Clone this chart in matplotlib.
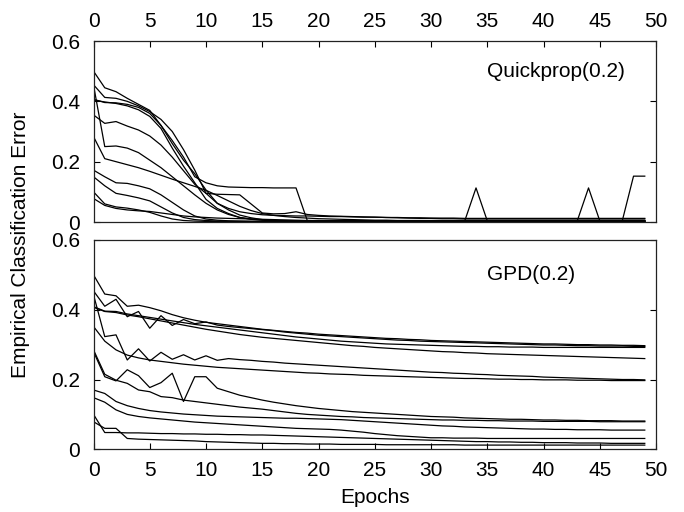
import numpy as np
import matplotlib
matplotlib.use("Agg")
import matplotlib.pyplot as plt

plt.rcParams['font.family'] = ['Liberation Sans', 'DejaVu Sans']

epochs = np.arange(50)

# Quickprop(0.2) runs - classification error per epoch
qp_runs = [
    [0.500, 0.445, 0.432, 0.410, 0.390, 0.370, 0.320, 0.270, 0.215, 0.150,
     0.130, 0.120, 0.116, 0.115, 0.114, 0.114, 0.113, 0.113, 0.113, 0.005,
     0.004, 0.004, 0.004, 0.004, 0.004, 0.004, 0.004, 0.004, 0.004, 0.004,
     0.004, 0.004, 0.004, 0.004, 0.004, 0.004, 0.004, 0.004, 0.004, 0.004,
     0.004, 0.004, 0.004, 0.004, 0.004, 0.004, 0.004, 0.004, 0.004, 0.004],
    [0.455, 0.413, 0.410, 0.400, 0.385, 0.366, 0.340, 0.300, 0.240, 0.172,
     0.095, 0.062, 0.045, 0.034, 0.028, 0.024, 0.022, 0.021, 0.020, 0.020,
     0.019, 0.018, 0.018, 0.017, 0.016, 0.016, 0.015, 0.015, 0.014, 0.014,
     0.013, 0.013, 0.013, 0.012, 0.012, 0.012, 0.012, 0.012, 0.012, 0.012,
     0.012, 0.012, 0.012, 0.012, 0.012, 0.012, 0.012, 0.012, 0.012, 0.012],
    [0.407, 0.396, 0.395, 0.390, 0.380, 0.360, 0.320, 0.260, 0.205, 0.160,
     0.106, 0.062, 0.040, 0.023, 0.014, 0.008, 0.005, 0.004, 0.003, 0.003,
     0.003, 0.003, 0.003, 0.003, 0.003, 0.003, 0.003, 0.003, 0.003, 0.003,
     0.003, 0.003, 0.003, 0.003, 0.003, 0.003, 0.003, 0.003, 0.003, 0.003,
     0.003, 0.003, 0.003, 0.003, 0.003, 0.003, 0.003, 0.003, 0.003, 0.003],
    [0.404, 0.398, 0.393, 0.385, 0.372, 0.350, 0.310, 0.245, 0.185, 0.130,
     0.075, 0.045, 0.028, 0.015, 0.009, 0.006, 0.004, 0.003, 0.003, 0.003,
     0.003, 0.003, 0.003, 0.003, 0.003, 0.003, 0.003, 0.003, 0.003, 0.003,
     0.003, 0.003, 0.003, 0.003, 0.003, 0.003, 0.003, 0.003, 0.003, 0.003,
     0.003, 0.003, 0.003, 0.003, 0.003, 0.003, 0.003, 0.003, 0.003, 0.003],
    [0.454, 0.250, 0.252, 0.245, 0.230, 0.205, 0.180, 0.150, 0.120, 0.090,
     0.062, 0.040, 0.025, 0.015, 0.010, 0.007, 0.005, 0.004, 0.003, 0.003,
     0.003, 0.003, 0.003, 0.003, 0.003, 0.003, 0.003, 0.003, 0.003, 0.003,
     0.003, 0.003, 0.003, 0.003, 0.003, 0.003, 0.003, 0.003, 0.003, 0.003,
     0.003, 0.003, 0.003, 0.003, 0.003, 0.003, 0.003, 0.003, 0.003, 0.003],
    [0.355, 0.327, 0.333, 0.318, 0.305, 0.285, 0.255, 0.215, 0.170, 0.125,
     0.095, 0.092, 0.091, 0.090, 0.060, 0.030, 0.027, 0.028, 0.034, 0.025,
     0.022, 0.020, 0.019, 0.018, 0.017, 0.016, 0.015, 0.014, 0.013, 0.012,
     0.012, 0.011, 0.011, 0.010, 0.010, 0.010, 0.010, 0.010, 0.010, 0.010,
     0.010, 0.010, 0.010, 0.010, 0.010, 0.010, 0.010, 0.010, 0.010, 0.010],
    [0.283, 0.210, 0.200, 0.190, 0.180, 0.168, 0.155, 0.142, 0.130, 0.118,
     0.105, 0.088, 0.070, 0.052, 0.038, 0.028, 0.022, 0.018, 0.015, 0.013,
     0.011, 0.010, 0.009, 0.008, 0.007, 0.006, 0.006, 0.005, 0.005, 0.005,
     0.005, 0.005, 0.005, 0.005, 0.005, 0.005, 0.005, 0.005, 0.005, 0.005,
     0.005, 0.005, 0.005, 0.005, 0.005, 0.005, 0.005, 0.005, 0.005, 0.005],
    [0.172, 0.150, 0.130, 0.128, 0.120, 0.110, 0.090, 0.065, 0.040, 0.020,
     0.010, 0.006, 0.004, 0.003, 0.002, 0.002, 0.002, 0.002, 0.002, 0.002,
     0.002, 0.002, 0.002, 0.002, 0.002, 0.002, 0.002, 0.002, 0.002, 0.002,
     0.002, 0.002, 0.002, 0.002, 0.002, 0.002, 0.002, 0.002, 0.002, 0.002,
     0.002, 0.002, 0.002, 0.002, 0.002, 0.002, 0.002, 0.002, 0.002, 0.002],
    [0.150, 0.120, 0.095, 0.088, 0.080, 0.070, 0.050, 0.030, 0.015, 0.008,
     0.005, 0.003, 0.002, 0.002, 0.002, 0.002, 0.002, 0.002, 0.002, 0.002,
     0.002, 0.002, 0.002, 0.002, 0.002, 0.002, 0.002, 0.002, 0.002, 0.002,
     0.002, 0.002, 0.002, 0.002, 0.002, 0.002, 0.002, 0.002, 0.002, 0.002,
     0.002, 0.002, 0.002, 0.002, 0.002, 0.002, 0.002, 0.002, 0.002, 0.002],
    [0.100, 0.060, 0.050, 0.046, 0.040, 0.032, 0.020, 0.010, 0.005, 0.003,
     0.002, 0.002, 0.002, 0.002, 0.002, 0.002, 0.002, 0.002, 0.002, 0.002,
     0.002, 0.002, 0.002, 0.002, 0.002, 0.002, 0.002, 0.002, 0.002, 0.002,
     0.002, 0.002, 0.002, 0.002, 0.002, 0.002, 0.002, 0.002, 0.002, 0.002,
     0.002, 0.002, 0.002, 0.002, 0.002, 0.002, 0.002, 0.002, 0.002, 0.002],
    [0.078, 0.055, 0.045, 0.040, 0.037, 0.035, 0.030, 0.025, 0.020, 0.017,
     0.015, 0.013, 0.012, 0.011, 0.010, 0.009, 0.008, 0.007, 0.006, 0.005,
     0.005, 0.004, 0.004, 0.004, 0.004, 0.004, 0.004, 0.004, 0.004, 0.004,
     0.004, 0.004, 0.004, 0.004, 0.113, 0.004, 0.004, 0.004, 0.004, 0.004,
     0.004, 0.004, 0.004, 0.004, 0.113, 0.004, 0.004, 0.004, 0.152, 0.152],
]

# GPD(0.2) runs
gpd_runs = [
    [0.500, 0.445, 0.440, 0.410, 0.413, 0.406, 0.397, 0.386, 0.377, 0.370,
     0.364, 0.360, 0.356, 0.352, 0.348, 0.344, 0.341, 0.338, 0.335, 0.333,
     0.330, 0.328, 0.326, 0.324, 0.322, 0.320, 0.318, 0.317, 0.315, 0.314,
     0.312, 0.311, 0.310, 0.309, 0.308, 0.307, 0.306, 0.305, 0.304, 0.303,
     0.302, 0.302, 0.301, 0.300, 0.300, 0.299, 0.299, 0.298, 0.298, 0.297],
    [0.454, 0.410, 0.430, 0.380, 0.395, 0.347, 0.383, 0.355, 0.372, 0.360,
     0.365, 0.356, 0.352, 0.349, 0.346, 0.343, 0.340, 0.336, 0.333, 0.330,
     0.327, 0.325, 0.323, 0.321, 0.319, 0.317, 0.315, 0.313, 0.312, 0.310,
     0.309, 0.308, 0.307, 0.306, 0.305, 0.304, 0.303, 0.302, 0.301, 0.300,
     0.299, 0.299, 0.298, 0.297, 0.297, 0.296, 0.296, 0.296, 0.295, 0.295],
    [0.409, 0.396, 0.395, 0.388, 0.383, 0.378, 0.373, 0.368, 0.363, 0.358,
     0.354, 0.350, 0.346, 0.342, 0.338, 0.334, 0.330, 0.326, 0.322, 0.319,
     0.316, 0.313, 0.310, 0.308, 0.306, 0.304, 0.302, 0.301, 0.300, 0.299,
     0.298, 0.297, 0.296, 0.295, 0.295, 0.294, 0.294, 0.293, 0.293, 0.293,
     0.292, 0.292, 0.292, 0.292, 0.292, 0.292, 0.292, 0.292, 0.292, 0.292],
    [0.407, 0.395, 0.392, 0.385, 0.380, 0.374, 0.368, 0.362, 0.356, 0.350,
     0.344, 0.339, 0.334, 0.329, 0.325, 0.321, 0.318, 0.315, 0.312, 0.309,
     0.306, 0.303, 0.300, 0.297, 0.295, 0.292, 0.290, 0.288, 0.286, 0.284,
     0.282, 0.280, 0.279, 0.277, 0.276, 0.274, 0.273, 0.272, 0.271, 0.270,
     0.269, 0.268, 0.267, 0.266, 0.265, 0.264, 0.263, 0.262, 0.261, 0.260],
    [0.443, 0.323, 0.328, 0.256, 0.288, 0.253, 0.278, 0.258, 0.271, 0.256,
     0.268, 0.255, 0.260, 0.257, 0.255, 0.252, 0.250, 0.247, 0.245, 0.243,
     0.241, 0.239, 0.237, 0.235, 0.233, 0.231, 0.229, 0.227, 0.225, 0.223,
     0.221, 0.220, 0.218, 0.217, 0.215, 0.214, 0.212, 0.211, 0.210, 0.209,
     0.207, 0.206, 0.205, 0.204, 0.203, 0.202, 0.201, 0.200, 0.200, 0.199],
    [0.352, 0.310, 0.285, 0.270, 0.262, 0.256, 0.252, 0.248, 0.244, 0.241,
     0.238, 0.235, 0.233, 0.231, 0.229, 0.227, 0.225, 0.223, 0.221, 0.219,
     0.218, 0.216, 0.215, 0.214, 0.212, 0.211, 0.210, 0.209, 0.208, 0.207,
     0.206, 0.205, 0.204, 0.203, 0.203, 0.202, 0.201, 0.201, 0.200, 0.200,
     0.199, 0.199, 0.199, 0.198, 0.198, 0.198, 0.197, 0.197, 0.197, 0.197],
    [0.280, 0.208, 0.196, 0.228, 0.211, 0.177, 0.191, 0.218, 0.137, 0.208,
     0.208, 0.175, 0.165, 0.155, 0.148, 0.141, 0.135, 0.130, 0.125, 0.121,
     0.117, 0.114, 0.111, 0.108, 0.106, 0.104, 0.102, 0.100, 0.098, 0.096,
     0.094, 0.093, 0.092, 0.090, 0.089, 0.088, 0.087, 0.086, 0.086, 0.085,
     0.084, 0.084, 0.083, 0.083, 0.082, 0.082, 0.082, 0.081, 0.081, 0.081],
    [0.285, 0.215, 0.198, 0.189, 0.170, 0.165, 0.151, 0.148, 0.141, 0.137,
     0.133, 0.129, 0.125, 0.121, 0.118, 0.115, 0.111, 0.107, 0.103, 0.100,
     0.098, 0.096, 0.094, 0.093, 0.091, 0.090, 0.089, 0.088, 0.087, 0.086,
     0.085, 0.084, 0.084, 0.083, 0.083, 0.082, 0.082, 0.081, 0.081, 0.081,
     0.080, 0.080, 0.080, 0.080, 0.080, 0.079, 0.079, 0.079, 0.079, 0.079],
    [0.170, 0.160, 0.137, 0.125, 0.117, 0.111, 0.107, 0.104, 0.101, 0.099,
     0.097, 0.095, 0.094, 0.093, 0.092, 0.091, 0.090, 0.089, 0.089, 0.088,
     0.087, 0.086, 0.085, 0.083, 0.081, 0.079, 0.077, 0.075, 0.073, 0.071,
     0.069, 0.067, 0.066, 0.064, 0.063, 0.062, 0.061, 0.060, 0.059, 0.058,
     0.058, 0.057, 0.057, 0.056, 0.056, 0.056, 0.055, 0.055, 0.055, 0.055],
    [0.148, 0.135, 0.113, 0.100, 0.094, 0.090, 0.087, 0.084, 0.081, 0.078,
     0.076, 0.074, 0.072, 0.070, 0.068, 0.066, 0.064, 0.062, 0.060, 0.059,
     0.058, 0.057, 0.055, 0.052, 0.049, 0.045, 0.042, 0.039, 0.037, 0.035,
     0.033, 0.033, 0.032, 0.032, 0.032, 0.031, 0.031, 0.031, 0.031, 0.031,
     0.031, 0.031, 0.031, 0.031, 0.031, 0.031, 0.031, 0.031, 0.031, 0.031],
    [0.100, 0.048, 0.048, 0.047, 0.047, 0.046, 0.045, 0.045, 0.044, 0.044,
     0.043, 0.043, 0.042, 0.042, 0.041, 0.041, 0.040, 0.039, 0.038, 0.037,
     0.036, 0.035, 0.034, 0.033, 0.032, 0.031, 0.030, 0.029, 0.028, 0.027,
     0.026, 0.025, 0.024, 0.023, 0.022, 0.022, 0.021, 0.021, 0.020, 0.020,
     0.019, 0.019, 0.019, 0.018, 0.018, 0.018, 0.017, 0.017, 0.017, 0.017],
    [0.079, 0.060, 0.060, 0.031, 0.029, 0.028, 0.027, 0.026, 0.025, 0.024,
     0.022, 0.021, 0.020, 0.019, 0.018, 0.017, 0.017, 0.016, 0.016, 0.015,
     0.015, 0.015, 0.014, 0.014, 0.014, 0.014, 0.013, 0.013, 0.013, 0.013,
     0.013, 0.013, 0.013, 0.012, 0.012, 0.012, 0.012, 0.012, 0.012, 0.012,
     0.012, 0.012, 0.012, 0.012, 0.012, 0.012, 0.012, 0.012, 0.012, 0.012],
]

x_ticks = [0, 5, 10, 15, 20, 25, 30, 35, 40, 45, 50]
y_ticks = [0, 0.2, 0.4, 0.6]
y_ticklabels = ["0", "0.2", "0.4", "0.6"]
fs = 15

fig = plt.figure(figsize=(6.84, 5.12), dpi=100)
ax_top = fig.add_axes([0.1367, 0.5664, 0.8224, 0.3535])
ax_bot = fig.add_axes([0.1367, 0.1225, 0.8224, 0.4088])

for ax, runs, label in [(ax_top, qp_runs, "Quickprop(0.2)"), (ax_bot, gpd_runs, "GPD(0.2)")]:
    for run in runs:
        ax.plot(epochs, run, color="black", lw=0.9)
    ax.set_xlim(0, 50)
    ax.set_ylim(0, 0.6)
    ax.set_xticks(x_ticks)
    ax.set_yticks(y_ticks)
    ax.set_yticklabels(y_ticklabels)
    ax.text(35, 0.5, label, fontsize=fs, ha="left", va="center")
    for s in ax.spines.values():
        s.set_linewidth(0.9)
        s.set_color("#222222")
    ax.tick_params(direction="in", length=4, width=0.8, labelsize=fs,
                   right=True, left=True, pad=9.5)

ax_top.tick_params(axis="x", top=True, bottom=False, labeltop=True, labelbottom=False, pad=7.5)
ax_bot.tick_params(axis="x", top=False, bottom=True, labeltop=False, labelbottom=True, pad=8.5)

ax_bot.set_xlabel("Epochs", fontsize=fs, labelpad=6)
fig.text(0.03, 1 - 245 / 512, "Empirical Classification Error", rotation=90,
         fontsize=fs, ha="center", va="center")

fig.savefig("out.png", dpi=100)
